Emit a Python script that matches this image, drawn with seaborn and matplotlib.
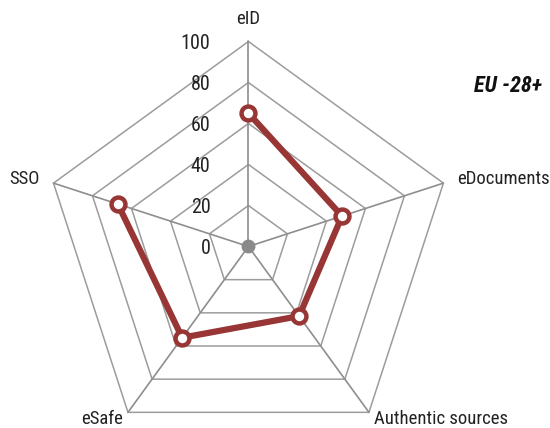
#!/usr/bin/env python3
import numpy as np
import pandas as pd
import matplotlib
matplotlib.use('Agg')
import matplotlib.pyplot as plt
import seaborn as sns

categories = ['eID', 'eDocuments', 'Authentic sources', 'eSafe', 'SSO']
scores = [65, 48, 42, 55, 67]
ring_levels = [20, 40, 60, 80, 100]
tick_labels = ['0', '20', '40', '60', '80', '100']
title = 'EU -28+'

RED = '#973634'
GRID = '#9c9c9c'


def to_xy(r, ang):
    return r * np.cos(ang), r * np.sin(ang)


def main():
    sns.set_theme(style='white')
    plt.rcParams['font.family'] = ['Roboto Condensed', 'DejaVu Sans']

    n = len(categories)
    # start at the top, go clockwise
    angles = np.pi / 2 - np.arange(n) * 2 * np.pi / n

    fig = plt.figure(figsize=(5.5, 4.28), dpi=100)
    ax = fig.add_axes([0, 0, 1, 1])
    ax.set_xlim(-121.2, 147.1)
    ax.set_ylim(-88.5, 120.2)
    ax.set_aspect('equal')
    ax.axis('off')

    # pentagon grid
    closed = np.append(angles, angles[0])
    for lvl in ring_levels:
        gx, gy = to_xy(lvl, closed)
        ax.plot(gx, gy, color=GRID, lw=1.1, zorder=1)
    for a in angles:
        sx, sy = to_xy(np.array([0, ring_levels[-1]]), a)
        ax.plot(sx, sy, color='#8e8e8e', lw=1.2, zorder=1)

    # value labels along the eID spoke
    for i, lab in enumerate(tick_labels):
        ax.text(-18.5, i * 20 - 0.8, lab, ha='right', va='center', fontsize=14.5,
                color='#222222')

    # data
    vals = np.append(scores, scores[0])
    px, py = to_xy(vals, closed)
    df = pd.DataFrame({'x': px, 'y': py})
    sns.lineplot(data=df, x='x', y='y', sort=False, ax=ax, color=RED, lw=4.5,
                 marker='o', markersize=10, markerfacecolor='white',
                 markeredgecolor=RED, markeredgewidth=3.2, zorder=3)
    ax.plot(0, 0, 'o', color='#8a8a8a', markersize=9, zorder=2)
    ax.set_xlabel('')
    ax.set_ylabel('')

    # category labels
    spots = [(111, 'center'), (107, 'left'), (104, 'left'), (104, 'right'), (107, 'right')]
    for lab, a, (r, ha) in zip(categories, angles, spots):
        tx, ty = to_xy(r, a)
        ax.text(tx, ty, lab, ha=ha, va='center', fontsize=13.5, color='#222222')

    ax.text(143, 78.3, title, ha='right', va='center', fontsize=16,
            fontweight='bold', fontstyle='italic', color='#111111')

    fig.savefig('out.png', dpi=100)


if __name__ == '__main__':
    main()
